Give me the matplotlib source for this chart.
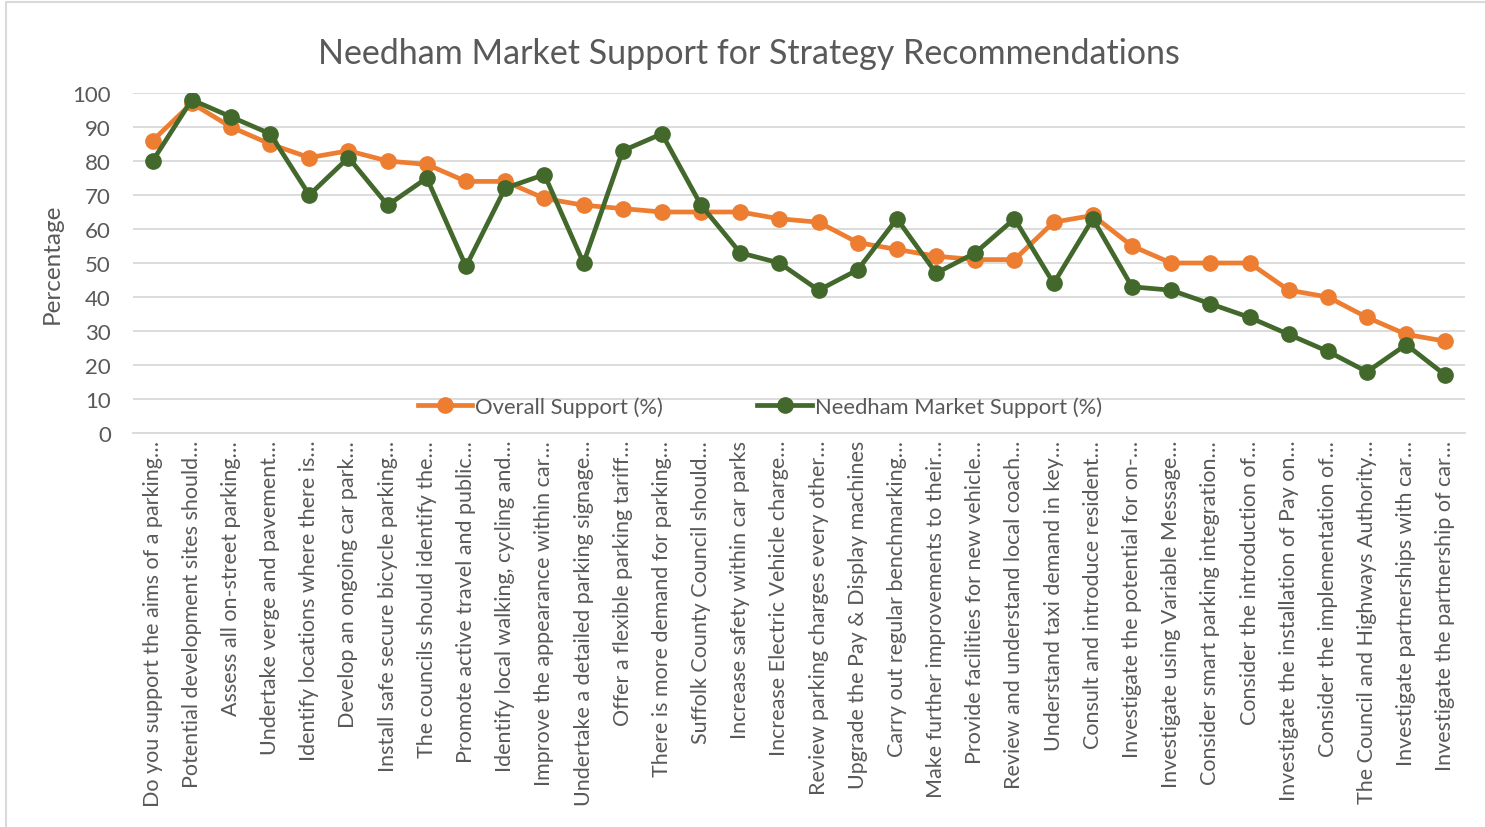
import matplotlib
matplotlib.use("Agg")
import matplotlib.pyplot as plt
from matplotlib.lines import Line2D

plt.rcParams['font.family'] = ['Lato', 'DejaVu Sans']

recommendations = [
    "Do you support the aims of a parking…",
    "Potential development sites should…",
    "Assess all on-street parking…",
    "Undertake verge and pavement…",
    "Identify locations where there is…",
    "Develop an ongoing car park…",
    "Install safe secure bicycle parking…",
    "The councils should identify the…",
    "Promote active travel and public…",
    "Identify local walking, cycling and…",
    "Improve the appearance within car…",
    "Undertake a detailed parking signage…",
    "Offer a flexible parking tariff…",
    "There is more demand for parking…",
    "Suffolk County Council should…",
    "Increase safety within car parks",
    "Increase Electric Vehicle charge…",
    "Review parking charges every other…",
    "Upgrade the Pay & Display machines",
    "Carry out regular benchmarking…",
    "Make further improvements to their…",
    "Provide facilities for new vehicle…",
    "Review and understand local coach…",
    "Understand taxi demand in key…",
    "Consult and introduce resident…",
    "Investigate the potential for on-…",
    "Investigate using Variable Message…",
    "Consider smart parking integration…",
    "Consider the introduction of…",
    "Investigate the installation of Pay on…",
    "Consider the implementation of…",
    "The Council and Highways Authority…",
    "Investigate partnerships with car…",
    "Investigate the partnership of car…",
]

overall = [86, 97, 90, 85, 81, 83, 80, 79, 74, 74, 69, 67, 66, 65, 65, 65, 63,
           62, 56, 54, 52, 51, 51, 62, 64, 55, 50, 50, 50, 42, 40, 34, 29, 27]
needham = [80, 98, 93, 88, 70, 81, 67, 75, 49, 72, 76, 50, 83, 88, 67, 53, 50,
           42, 48, 63, 47, 53, 63, 44, 63, 43, 42, 38, 34, 29, 24, 18, 26, 17]

y_ticks = list(range(0, 101, 10))

orange = '#ED7D31'
green = '#43682B'
grey_text = '#595959'
grid_col = '#D9D9D9'

W, H = 1485, 828
fig = plt.figure(figsize=(W / 100, H / 100), dpi=100)
ax = fig.add_axes([133 / W, 1 - 434 / H, (1465 - 133) / W, (434 - 94) / H])

x = list(range(len(recommendations)))
ax.plot(x, overall, color=orange, lw=3.4, marker='o', ms=11,
        label='Overall Support (%)', zorder=3, solid_joinstyle='round')
ax.plot(x, needham, color=green, lw=3.4, marker='o', ms=11,
        label='Needham Market Support (%)', zorder=4, solid_joinstyle='round')

ax.set_xlim(-0.5, len(recommendations) - 0.5)
ax.set_ylim(0, 100)
ax.set_yticks(y_ticks)
ax.set_yticklabels([str(v) for v in y_ticks], fontsize=16, color=grey_text)
ax.set_xticks(x)
ax.set_xticklabels(recommendations, rotation=90, fontsize=15.5, color=grey_text,
                   ha='center', va='top')
ax.tick_params(axis='y', length=0, pad=16)
ax.tick_params(axis='x', length=0, pad=5)

ax.grid(axis='y', color=grid_col, lw=1.3)
ax.set_axisbelow(True)
for side in ['top', 'right', 'left']:
    ax.spines[side].set_visible(False)
ax.spines['bottom'].set_color(grid_col)
ax.spines['bottom'].set_linewidth(1.3)

ax.set_ylabel('Percentage', fontsize=17.5, color=grey_text)
ax.yaxis.set_label_coords(-70 / 1332, 0.5)

fig.text(0.5 * (313 + 1185) / W, 1 - 54 / H,
         'Needham Market Support for Strategy Recommendations',
         fontsize=24.5, color=grey_text, ha='center', va='center')

leg = ax.legend(loc='center', bbox_to_anchor=(0.4705, 0.078), ncol=2,
                frameon=False, fontsize=15.8, handlelength=2.5,
                handletextpad=0.12, columnspacing=4.3, labelcolor=grey_text)

# chart border like the spreadsheet frame
fig.add_artist(Line2D([6 / W, 6 / W, 1], [0, 1 - 3 / H, 1 - 3 / H],
                      color=grid_col, lw=1.5, transform=fig.transFigure))

fig.savefig('out.png', dpi=100, facecolor='white')
